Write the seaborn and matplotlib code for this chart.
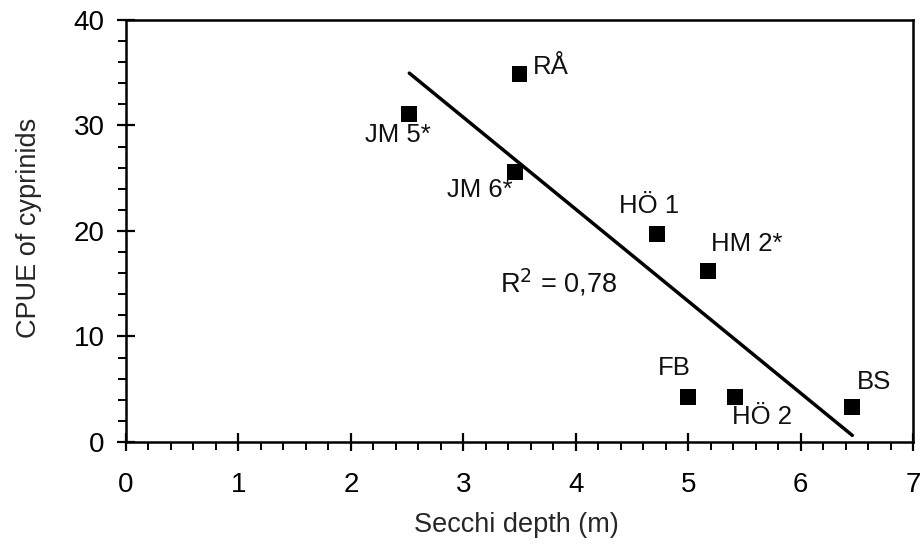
import matplotlib
matplotlib.use("Agg")
import matplotlib.pyplot as plt
from matplotlib.ticker import MultipleLocator
import seaborn as sns
import pandas as pd

# Data
sites = ["JM 5*", "RÅ", "JM 6*", "HÖ 1", "HM 2*", "FB", "HÖ 2", "BS"]
secchi = [2.52, 3.50, 3.46, 4.72, 5.18, 5.00, 5.42, 6.46]
cpue = [31.1, 34.9, 25.6, 19.7, 16.2, 4.3, 4.3, 3.3]
# label offsets (data units) and alignment
label_dx = [-0.10, 0.12, -0.31, -0.07, 0.34, -0.12, 0.24, 0.19]
label_dy = [-2.0, 0.6, -1.7, 2.7, 2.6, 2.7, -1.95, 2.4]
label_ha = ["center", "left", "center", "center", "center", "center", "center", "center"]

df = pd.DataFrame({"site": sites, "secchi": secchi, "cpue": cpue})

sns.set_theme(style="ticks")
plt.rcParams["font.family"] = ["Liberation Sans", "DejaVu Sans"]

fig = plt.figure(figsize=(9.21, 5.46), dpi=100)
ax = fig.add_axes([0.1368, 0.1905, 0.8545, 0.7729])

sns.regplot(data=df, x="secchi", y="cpue", ax=ax, ci=None, color="black",
            marker="s", scatter_kws={"s": 130, "edgecolor": "none", "alpha": 1},
            line_kws={"lw": 2.5})

for s, x, y, dx, dy, ha in zip(sites, secchi, cpue, label_dx, label_dy, label_ha):
    ax.text(x + dx, y + dy, s, ha=ha, va="center", fontsize=18.5, color="#111111")

ax.text(3.33, 15.1, "R$^2$ = 0,78", ha="left", va="center", fontsize=19.5, color="#111111")

ax.set_xlim(0, 7)
ax.set_ylim(0, 40)
ax.xaxis.set_major_locator(MultipleLocator(1))
ax.xaxis.set_minor_locator(MultipleLocator(0.2))
ax.yaxis.set_major_locator(MultipleLocator(10))
ax.yaxis.set_minor_locator(MultipleLocator(2))
ax.tick_params(which="major", direction="inout", length=13, width=1.6,
               labelsize=20, colors="black")
ax.tick_params(axis="x", which="major", pad=15)
ax.tick_params(axis="y", which="major", pad=9)
ax.tick_params(which="minor", direction="out", length=6, width=1.4, colors="black")
for sp in ax.spines.values():
    sp.set_visible(True)
    sp.set_linewidth(1.8)
    sp.set_color("black")

ax.set_xlabel("Secchi depth (m)", fontsize=19.5)
ax.set_ylabel("CPUE of cyprinids", fontsize=19.5)
ax.xaxis.set_label_coords(0.4956, -0.165)
ax.yaxis.set_label_coords(-0.107, 0.507)

fig.savefig("out.png", dpi=100, facecolor="white")
